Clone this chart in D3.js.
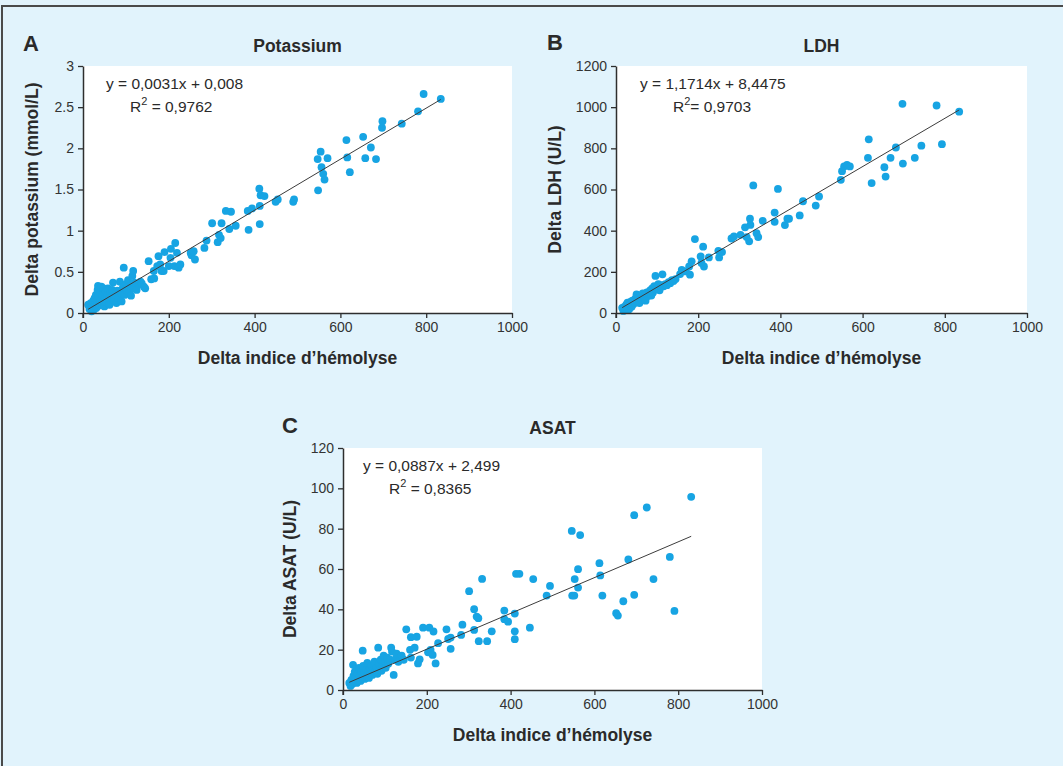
<!DOCTYPE html>
<html>
<head>
<meta charset="utf-8">
<script src="https://cdn.jsdelivr.net/npm/d3@7"></script>
<style>
  html, body { margin: 0; padding: 0; background: #e1f3fc; }
  svg { display: block; font-family: "Liberation Sans", Arial, Helvetica, sans-serif; }
</style>
</head>
<body>
<svg id="chart"></svg>
<script>
let svgWidth = 1063
let svgHeight = 766

// ---- data ----
const xTicks = [0, 200, 400, 600, 800, 1000]
const potassiumTicks = [0, 0.5, 1, 1.5, 2, 2.5, 3]
const ldhTicks = [0, 200, 400, 600, 800, 1000, 1200]
const asatTicks = [0, 20, 40, 60, 80, 100, 120]

// [delta indice d'hemolyse, delta potassium]
const potassiumPoints = [
  [12,0.10],[15,0.05],[18,0.12],[20,0.02],[22,0.08],[24,0.15],[25,0.04],[27,0.18],[28,0.10],[30,0.22],
  [31,0.06],[33,0.13],[34,0.28],[35,0.33],[36,0.20],[38,0.09],[40,0.25],[41,0.15],[43,0.32],[44,0.11],
  [46,0.22],[48,0.30],[50,0.08],[51,0.18],[53,0.26],[55,0.13],[57,0.21],[58,0.30],[60,0.16],[62,0.10],
  [64,0.24],[66,0.19],[68,0.28],[70,0.37],[72,0.15],[75,0.22],[78,0.12],[80,0.27],[83,0.18],[86,0.38],
  [88,0.24],[90,0.14],[93,0.31],[95,0.55],[97,0.22],[100,0.35],[102,0.28],[105,0.40],[108,0.25],[110,0.33],
  [112,0.21],[115,0.45],[117,0.51],[118,0.30],[120,0.37],[125,0.28],[130,0.35],[134,0.38],[137,0.36],[142,0.32],
  [145,0.30],[153,0.63],[159,0.41],[165,0.51],[166,0.42],[173,0.57],[176,0.69],[180,0.59],[183,0.51],[188,0.51],
  [190,0.74],[200,0.57],[204,0.67],[205,0.78],[213,0.57],[215,0.85],[219,0.73],[223,0.55],[227,0.59],[251,0.73],
  [253,0.70],[258,0.75],[261,0.65],[283,0.79],[288,0.88],[301,1.09],[314,0.86],[317,0.95],[321,0.91],[323,1.09],
  [333,1.24],[341,1.02],[345,1.23],[356,1.06],[384,1.24],[386,1.01],[394,1.27],[411,1.51],[412,1.30],[412,1.08],
  [414,1.43],[423,1.42],[449,1.35],[454,1.38],[490,1.35],[492,1.38],[547,1.87],[548,1.49],[554,1.96],[556,1.77],
  [560,1.69],[563,1.62],[570,1.88],[614,2.10],[616,1.89],[622,1.71],[653,2.14],[658,1.88],[671,2.01],[683,1.87],
  [697,2.25],[698,2.33],[743,2.30],[781,2.45],[794,2.66],[834,2.60]
]

// [delta indice d'hemolyse, delta LDH]
const ldhPoints = [
  [15,25],[18,10],[20,30],[22,15],[25,40],[27,20],[28,50],[30,35],[32,18],[34,45],
  [36,55],[38,30],[40,60],[42,42],[45,50],[47,70],[50,90],[52,60],[55,75],[57,48],
  [60,85],[62,65],[65,95],[68,75],[70,88],[72,60],[75,100],[78,82],[80,95],[83,110],
  [86,85],[88,120],[90,100],[93,130],[96,180],[98,115],[100,125],[103,140],[106,110],[110,135],
  [113,188],[116,130],[120,140],[124,135],[128,150],[132,145],[136,160],[140,155],[145,165],[156,189],
  [160,210],[170,202],[178,226],[180,186],[184,251],[192,359],[206,275],[208,243],[212,322],[214,226],
  [226,270],[249,302],[251,270],[258,296],[281,362],[287,372],[303,380],[314,416],[318,369],[324,348],
  [326,458],[327,428],[334,620],[342,388],[346,369],[357,448],[386,488],[386,443],[394,603],[411,427],
  [417,458],[421,458],[447,474],[455,543],[486,522],[494,566],[547,647],[550,689],[555,712],[562,720],
  [569,712],[613,754],[615,844],[622,631],[653,708],[656,663],[668,754],[681,804],[697,1016],[698,726],
  [727,754],[743,813],[780,1008],[793,820],[835,978]
]

// [delta indice d'hemolyse, delta ASAT]
const asatPoints = [
  [15,3.5],[18,2],[20,5],[22,3],[24,12.5],[25,7],[27,4],[28,9],[30,6],[32,10.5],
  [33,3.5],[35,8],[37,5],[38,11],[40,7],[42,4.5],[44,9],[47,19.5],[47,6],[48,12],
  [50,8],[52,5.5],[55,10],[57,7],[58,13.5],[60,9],[62,6],[64,11],[66,8],[68,12],
  [70,7.5],[72,10],[75,14],[77,9],[80,11],[82,8],[84,21],[86,13],[88,10],[90,15],
  [92,9.5],[95,12],[97,17],[100,14],[102,11],[105,16],[108,13],[112,15],[115,21],[117,19],
  [121,7.5],[124,15],[128,18],[132,14],[136,16],[140,17],[145,15],[151,30.1],[160,19.9],[162,26.2],
  [162,16.1],[171,21.0],[176,26.4],[179,13.2],[183,15.2],[191,30.9],[203,18.7],[206,30.9],[209,19.9],[214,17.4],
  [216,29.0],[221,13.2],[227,23.2],[247,30.1],[251,25.3],[257,26.0],[257,20.4],[282,27.3],[285,32.4],[301,49.0],
  [313,40.1],[313,29.8],[319,36.4],[323,35.6],[324,24.2],[332,55.1],[344,24.2],[355,29.1],[385,39.4],[385,35.1],
  [394,33.9],[410,37.9],[410,29.1],[410,25.2],[413,57.6],[421,57.6],[446,30.9],[454,55.0],[486,46.8],[494,51.6],
  [546,78.9],[547,46.8],[552,46.8],[553,55.0],[561,59.9],[561,50.8],[566,76.8],[612,62.9],[614,56.8],[619,46.8],
  [652,38.1],[656,36.9],[669,44.0],[681,64.7],[695,86.7],[695,47.2],[725,90.5],[741,55.0],[780,66.0],[791,39.2],
  [831,95.8]
]

// trend lines: slope, intercept as printed
const potassiumFit = [0.0031, 0.008]
const ldhFit = [1.1714, 8.4475]
const asatFit = [0.0887, 2.499]

let svg = d3.select('#chart')
    .attr('width', svgWidth)
    .attr('height', svgHeight)

svg.append('rect')
    .attr('x', 0).attr('y', 0)
    .attr('width', svgWidth).attr('height', svgHeight)
    .attr('fill', '#e1f3fc')

// frame (only top and left edges are visible in the picture)
svg.append('path')
    .attr('d', `M2,${svgHeight} L2,6 L${svgWidth},6`)
    .attr('fill', 'none')
    .attr('stroke', '#4a4a4a')
    .attr('stroke-width', 2)

const dotColor = '#17a4e3'
const inkColor = '#2e2e2e'

function drawPanel(p){
    let g = svg.append('g')

    const xScale = d3.scaleLinear().domain([0, 1000]).range([p.left, p.right])
    const yScale = d3.scaleLinear().domain([0, p.yMax]).range([p.bottom, p.top])

    g.append('rect')
        .attr('x', p.left).attr('y', p.top)
        .attr('width', p.right - p.left).attr('height', p.bottom - p.top)
        .attr('fill', '#ffffff')

    // points
    g.selectAll('circle').data(p.points)
        .enter()
        .append('circle')
        .attr('cx', d => xScale(d[0]))
        .attr('cy', d => yScale(d[1]))
        .attr('r', 3.9)
        .attr('fill', dotColor)

    // trend line
    const xs = d3.extent(p.points, d => d[0])
    g.append('line')
        .attr('x1', xScale(xs[0])).attr('y1', yScale(p.fit[0] * xs[0] + p.fit[1]))
        .attr('x2', xScale(xs[1])).attr('y2', yScale(p.fit[0] * xs[1] + p.fit[1]))
        .attr('stroke', '#3c3c3c')
        .attr('stroke-width', 1)

    // axes
    let xAxis = g.append('g')
        .attr('transform', `translate(0,${p.bottom})`)
        .call(d3.axisBottom(xScale).tickValues(xTicks).tickSize(5).tickSizeOuter(0).tickPadding(4)
            .tickFormat(d => String(d)))
    let yAxis = g.append('g')
        .attr('transform', `translate(${p.left},0)`)
        .call(d3.axisLeft(yScale).tickValues(p.yTicks).tickSize(5).tickSizeOuter(0).tickPadding(4)
            .tickFormat(d => String(d)))

    ;[xAxis, yAxis].forEach(function(a){
        a.select('.domain').attr('stroke', inkColor).attr('stroke-width', 1.5)
        a.selectAll('.tick line').attr('stroke', inkColor).attr('stroke-width', 1.3)
        a.selectAll('.tick text')
            .attr('fill', '#333333')
            .style('font-size', '14px')
            .style('font-family', '"Liberation Sans", Arial, sans-serif')
    })
    g.append('line')
        .attr('x1', p.left).attr('x2', p.left)
        .attr('y1', p.bottom).attr('y2', p.bottom + 5)
        .attr('stroke', inkColor).attr('stroke-width', 1.3)

    // panel letter
    g.append('text')
        .attr('x', p.letterX).attr('y', p.letterY)
        .text(p.letter)
        .attr('fill', '#2a2a2a')
        .style('font-size', '22px')
        .style('font-weight', 'bold')

    // title
    g.append('text')
        .attr('x', (p.left + p.right) / 2).attr('y', p.top - 14)
        .attr('text-anchor', 'middle')
        .text(p.title)
        .attr('fill', '#2a2a2a')
        .style('font-size', '17.5px')
        .style('font-weight', 'bold')

    // x label
    g.append('text')
        .attr('x', (p.left + p.right) / 2).attr('y', p.bottom + 51)
        .attr('text-anchor', 'middle')
        .text('Delta indice d\u2019hémolyse')
        .attr('fill', '#2a2a2a')
        .style('font-size', '17.5px')
        .style('font-weight', 'bold')

    // y label
    g.append('text')
        .attr('transform', `translate(${p.yLabelX},${(p.top + p.bottom) / 2}) rotate(-90)`)
        .attr('text-anchor', 'middle')
        .text(p.yLabel)
        .attr('fill', '#2a2a2a')
        .style('font-size', '17.5px')
        .style('font-weight', 'bold')

    // equation
    g.append('text')
        .attr('x', p.left + p.eqDx).attr('y', p.top + 23)
        .text(p.equation)
        .attr('fill', '#2a2a2a')
        .style('font-size', '15.5px')
    let r2 = g.append('text')
        .attr('x', p.left + p.r2Dx).attr('y', p.top + 46)
        .attr('fill', '#2a2a2a')
        .style('font-size', '15.5px')
    r2.append('tspan').text('R')
    r2.append('tspan').text('2').attr('dy', -7).style('font-size', '11px')
    r2.append('tspan').text(p.r2Text).attr('dy', 7)
}

drawPanel({
    letter: 'A', letterX: 23, letterY: 51,
    title: 'Potassium', yLabel: 'Delta potassium (mmol/L)', yLabelX: 38,
    left: 83, right: 512, top: 66, bottom: 313,
    yMax: 3, yTicks: potassiumTicks, points: potassiumPoints, fit: potassiumFit,
    equation: 'y = 0,0031x + 0,008', eqDx: 23, r2Text: '  = 0,9762', r2Dx: 47
})
drawPanel({
    letter: 'B', letterX: 547, letterY: 50,
    title: 'LDH', yLabel: 'Delta LDH (U/L)', yLabelX: 561,
    left: 616, right: 1027, top: 66, bottom: 313,
    yMax: 1200, yTicks: ldhTicks, points: ldhPoints, fit: ldhFit,
    equation: 'y = 1,1714x + 8,4475', eqDx: 24, r2Text: '= 0,9703', r2Dx: 57
})
drawPanel({
    letter: 'C', letterX: 282, letterY: 433,
    title: 'ASAT', yLabel: 'Delta ASAT (U/L)', yLabelX: 296,
    left: 343, right: 762, top: 448, bottom: 690,
    yMax: 120, yTicks: asatTicks, points: asatPoints, fit: asatFit,
    equation: 'y = 0,0887x + 2,499', eqDx: 20, r2Text: ' = 0,8365', r2Dx: 46
})
</script>
</body>
</html>
